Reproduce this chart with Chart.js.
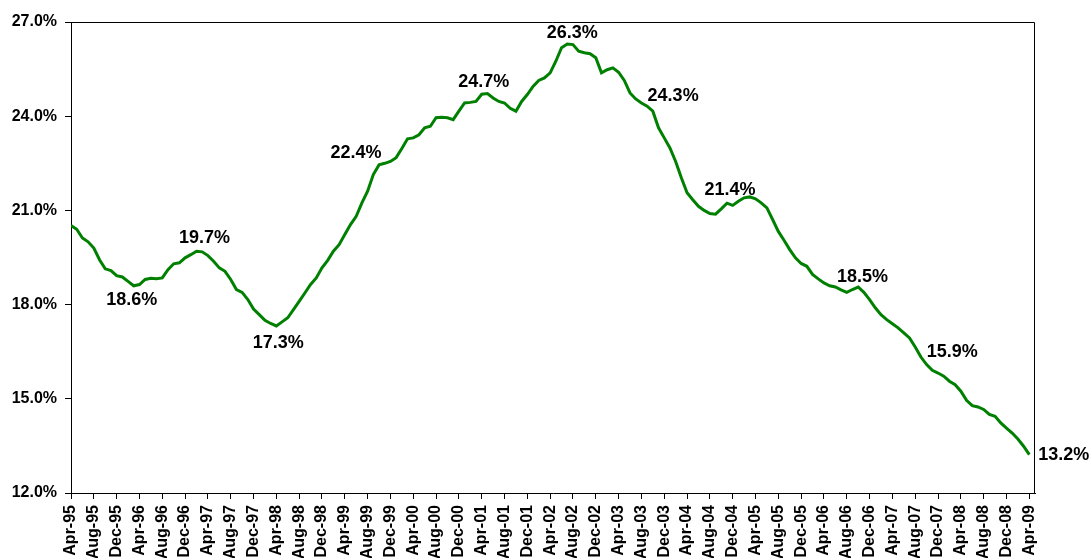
<!DOCTYPE html>
<html>
<head>
<meta charset="utf-8">
<script src="https://cdn.jsdelivr.net/npm/chart.js@4.4.1/dist/chart.umd.min.js"></script>
<style>
  html, body { margin: 0; padding: 0; background: #ffffff; }
  #wrap { width: 1091px; height: 558px; position: relative; }
</style>
</head>
<body>
<div id="wrap"><canvas id="c" width="1091" height="558"></canvas></div>
<script>
// ---- Categories (monthly, Apr-95 .. Apr-09) ----
const months = [
  'Apr-95','May-95','Jun-95','Jul-95','Aug-95','Sep-95','Oct-95','Nov-95','Dec-95',
  'Jan-96','Feb-96','Mar-96','Apr-96','May-96','Jun-96','Jul-96','Aug-96','Sep-96','Oct-96','Nov-96','Dec-96',
  'Jan-97','Feb-97','Mar-97','Apr-97','May-97','Jun-97','Jul-97','Aug-97','Sep-97','Oct-97','Nov-97','Dec-97',
  'Jan-98','Feb-98','Mar-98','Apr-98','May-98','Jun-98','Jul-98','Aug-98','Sep-98','Oct-98','Nov-98','Dec-98',
  'Jan-99','Feb-99','Mar-99','Apr-99','May-99','Jun-99','Jul-99','Aug-99','Sep-99','Oct-99','Nov-99','Dec-99',
  'Jan-00','Feb-00','Mar-00','Apr-00','May-00','Jun-00','Jul-00','Aug-00','Sep-00','Oct-00','Nov-00','Dec-00',
  'Jan-01','Feb-01','Mar-01','Apr-01','May-01','Jun-01','Jul-01','Aug-01','Sep-01','Oct-01','Nov-01','Dec-01',
  'Jan-02','Feb-02','Mar-02','Apr-02','May-02','Jun-02','Jul-02','Aug-02','Sep-02','Oct-02','Nov-02','Dec-02',
  'Jan-03','Feb-03','Mar-03','Apr-03','May-03','Jun-03','Jul-03','Aug-03','Sep-03','Oct-03','Nov-03','Dec-03',
  'Jan-04','Feb-04','Mar-04','Apr-04','May-04','Jun-04','Jul-04','Aug-04','Sep-04','Oct-04','Nov-04','Dec-04',
  'Jan-05','Feb-05','Mar-05','Apr-05','May-05','Jun-05','Jul-05','Aug-05','Sep-05','Oct-05','Nov-05','Dec-05',
  'Jan-06','Feb-06','Mar-06','Apr-06','May-06','Jun-06','Jul-06','Aug-06','Sep-06','Oct-06','Nov-06','Dec-06',
  'Jan-07','Feb-07','Mar-07','Apr-07','May-07','Jun-07','Jul-07','Aug-07','Sep-07','Oct-07','Nov-07','Dec-07',
  'Jan-08','Feb-08','Mar-08','Apr-08','May-08','Jun-08','Jul-08','Aug-08','Sep-08','Oct-08','Nov-08','Dec-08',
  'Jan-09','Feb-09','Mar-09','Apr-09'
];

// ---- Series values (%) ----
const values = [
  20.52, 20.40, 20.12, 20.00, 19.80, 19.43, 19.14, 19.08, 18.92, 18.88,
  18.74, 18.60, 18.64, 18.80, 18.84, 18.82, 18.85, 19.11, 19.30, 19.33,
  19.49, 19.59, 19.70, 19.68, 19.56, 19.38, 19.17, 19.06, 18.80, 18.48,
  18.39, 18.16, 17.86, 17.68, 17.50, 17.40, 17.32, 17.45, 17.58, 17.84,
  18.10, 18.37, 18.64, 18.85, 19.17, 19.41, 19.70, 19.91, 20.23, 20.55,
  20.81, 21.24, 21.61, 22.14, 22.45, 22.50, 22.56, 22.68, 22.97, 23.28,
  23.31, 23.41, 23.63, 23.68, 23.95, 23.97, 23.95, 23.89, 24.16, 24.42,
  24.44, 24.47, 24.70, 24.72, 24.58, 24.47, 24.42, 24.25, 24.16, 24.47,
  24.69, 24.95, 25.14, 25.22, 25.38, 25.75, 26.18, 26.30, 26.28, 26.07,
  26.02, 25.99, 25.86, 25.38, 25.48, 25.54, 25.40, 25.14, 24.74, 24.55,
  24.42, 24.32, 24.16, 23.63, 23.31, 22.99, 22.56, 22.04, 21.56, 21.34,
  21.13, 21.00, 20.90, 20.88, 21.05, 21.23, 21.16, 21.29, 21.40, 21.43,
  21.37, 21.24, 21.08, 20.71, 20.33, 20.05, 19.75, 19.49, 19.31, 19.22,
  18.96, 18.82, 18.69, 18.60, 18.56, 18.47, 18.39, 18.48, 18.56, 18.39,
  18.16, 17.90, 17.68, 17.52, 17.39, 17.26, 17.10, 16.94, 16.65, 16.33,
  16.09, 15.91, 15.82, 15.72, 15.56, 15.45, 15.24, 14.95, 14.78, 14.74,
  14.66, 14.50, 14.44, 14.23, 14.07, 13.91, 13.72, 13.49, 13.22
];

// ---- Tick labels ----
const xTickLabels = [
  'Apr-95','Aug-95','Dec-95','Apr-96','Aug-96','Dec-96','Apr-97','Aug-97','Dec-97',
  'Apr-98','Aug-98','Dec-98','Apr-99','Aug-99','Dec-99','Apr-00','Aug-00','Dec-00',
  'Apr-01','Aug-01','Dec-01','Apr-02','Aug-02','Dec-02','Apr-03','Aug-03','Dec-03',
  'Apr-04','Aug-04','Dec-04','Apr-05','Aug-05','Dec-05','Apr-06','Aug-06','Dec-06',
  'Apr-07','Aug-07','Dec-07','Apr-08','Aug-08','Dec-08','Apr-09'
];
const yTickValues = [12, 15, 18, 21, 24, 27];
const yTickLabels = ['12.0%', '15.0%', '18.0%', '21.0%', '24.0%', '27.0%'];

// ---- Data labels ----
const labelMonths = ['Mar-96','Feb-97','Apr-98','Oct-99','Apr-01','Jul-02','Sep-03','Nov-04','Sep-06','Nov-07','Apr-09'];
const labelTexts  = ['18.6%','19.7%','17.3%','22.4%','24.7%','26.3%','24.3%','21.4%','18.5%','15.9%','13.2%'];

// ---- Build library structures ----
const points = values.map((v, i) => ({ x: i, y: v }));
const xTickIdx = xTickLabels.map(l => months.indexOf(l));

const FONT = "'Liberation Sans', Arial, Helvetica, sans-serif";

// label placement (pixel offsets from the data point)
const labelPlacement = [
  [-2, 14, 'center'], [8, -13, 'center'], [2, 17, 'center'], [-23, -12, 'center'],
  [2, -12, 'center'], [5, -11, 'center'], [26, -10, 'center'], [3, -13, 'center'],
  [10, -12, 'center'], [20, -18, 'center'], [9, 0, 'left']
];

const framePlugin = {
  id: 'frame',
  afterDatasetsDraw(chart) {
    const { ctx, chartArea: a, scales } = chart;
    ctx.save();
    ctx.strokeStyle = '#000';
    ctx.lineWidth = 1;
    ctx.beginPath();
    ctx.moveTo(a.left, a.top + 0.5);
    ctx.lineTo(a.right - 0.5, a.top + 0.5);
    ctx.lineTo(a.right - 0.5, a.bottom);
    ctx.stroke();
    ctx.restore();

    // data labels
    ctx.save();
    ctx.font = 'bold 18px ' + FONT;
    ctx.fillStyle = '#000';
    ctx.textBaseline = 'middle';
    labelMonths.forEach((m, k) => {
      const i = months.indexOf(m);
      const px = scales.x.getPixelForValue(i);
      const py = scales.y.getPixelForValue(values[i]);
      const [dx, dy, align] = labelPlacement[k];
      ctx.textAlign = align;
      ctx.fillText(labelTexts[k], px + dx, py + dy);
    });
    ctx.restore();
  }
};

new Chart(document.getElementById('c'), {
  type: 'line',
  data: {
    datasets: [{
      data: points,
      borderColor: '#008000',
      borderWidth: 3,
      pointRadius: 0,
      tension: 0,
      fill: false
    }]
  },
  options: {
    responsive: false,
    animation: false,
    layout: { padding: { top: 22, right: 56, left: 0, bottom: 0 } },
    plugins: { legend: { display: false }, tooltip: { enabled: false } },
    scales: {
      x: {
        type: 'linear',
        min: 0,
        max: months.length,
        afterBuildTicks(scale) { scale.ticks = xTickIdx.map(v => ({ value: v })); },
        afterFit(scale) { scale.height = 65; },
        ticks: {
          autoSkip: false,
          maxRotation: 90,
          minRotation: 90,
          padding: 6,
          color: '#000',
          font: { family: FONT, size: 16, weight: 'bold' },
          callback: (v) => months[v]
        },
        grid: { drawOnChartArea: false, drawTicks: true, tickLength: 6, color: '#000' },
        border: { display: true, color: '#000', width: 1 }
      },
      y: {
        min: 12,
        max: 27,
        afterBuildTicks(scale) { scale.ticks = yTickValues.map(v => ({ value: v })); },
        afterFit(scale) { scale.width = 71; },
        ticks: {
          padding: 8,
          color: '#000',
          font: { family: FONT, size: 16, weight: 'bold' },
          callback: (v) => yTickLabels[yTickValues.indexOf(v)]
        },
        grid: { drawOnChartArea: false, drawTicks: true, tickLength: 6, color: '#000' },
        border: { display: true, color: '#000', width: 1 }
      }
    }
  },
  plugins: [framePlugin]
});
</script>
</body>
</html>
